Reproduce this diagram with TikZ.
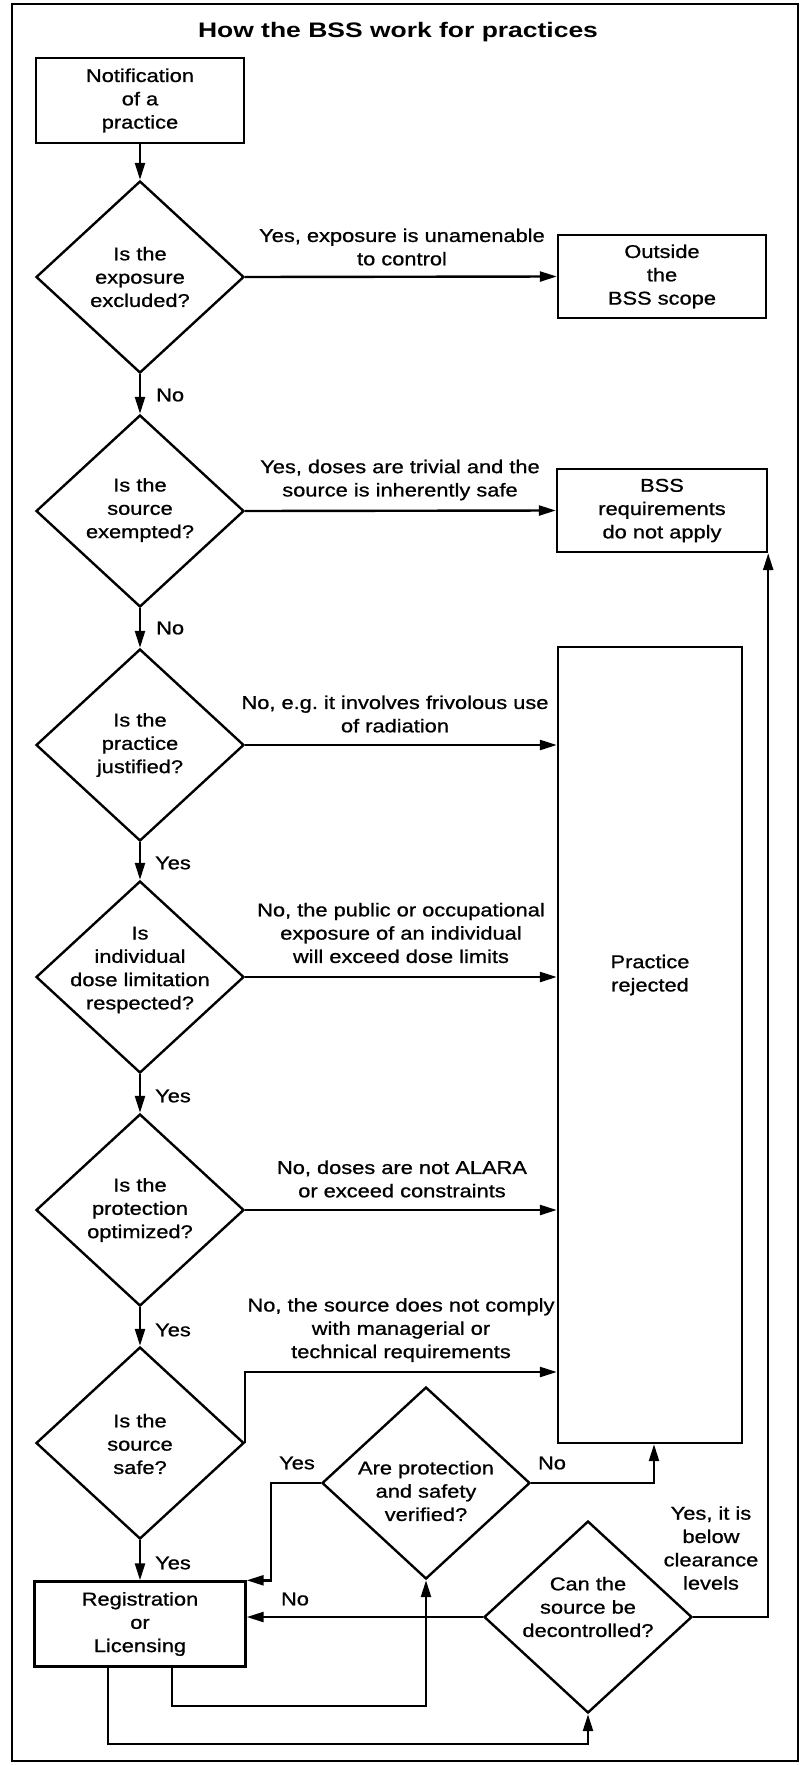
\documentclass[tikz,border=0pt]{standalone}
\usepackage{fontspec}
\setmainfont{Liberation Sans}[FakeStretch=1.18,FakeBold=0.9]
\newfontfamily\titlefont{Liberation Sans}[FakeStretch=1.26]
\usetikzlibrary{shapes.geometric,arrows.meta,calc}
\newcommand\lblfont{\fontsize{18.5}{23.3}\selectfont}
\begin{document}
\begin{tikzpicture}[x=1pt,y=-1pt,
  box/.style={draw, line width=2.4pt, rectangle, inner sep=0pt, align=center, font=\lblfont},
  dia/.style={draw, line width=2.4pt, diamond, minimum width=208pt, minimum height=192pt, inner sep=0pt},
  txt/.style={align=center, font=\lblfont, inner sep=0pt},
  arr/.style={line width=2.4pt, -{Triangle[length=17pt,width=10pt]}},
  ]
\useasboundingbox (0,0) rectangle (806,1765);
\draw[line width=1.6pt] (12,4) rectangle (798,1761);

\node[txt, font=\titlefont\bfseries\fontsize{21}{25}\selectfont] (title) at (398,32) {How the BSS work for practices};

% main nodes
\node[box, minimum width=208pt, minimum height=85pt] (n0) at (140,100.5) {Notification\\of a\\practice};
\node[dia] (d1) at (140,277) {};
\node[txt] (t1) at (140,277) {Is the\\exposure\\excluded?};
\node[box, minimum width=208pt, minimum height=83pt] (out) at (662,276.5) {Outside\\the\\BSS scope};
\node[dia] (d2) at (140,511) {};
\node[txt] (t2) at (140,510) {Is the\\source\\exempted?};
\node[box, minimum width=210pt, minimum height=83pt] (bss) at (662,510.5) {BSS\\requirements\\do not apply};
\node[dia] (d3) at (140,745) {};
\node[txt] (t3) at (140,745) {Is the\\practice\\justified?};
\node[box, minimum width=184pt, minimum height=796pt] (pr) at (650,1045) {};
\node[txt] (prt) at (650,975) {Practice\\rejected};
\node[dia] (d4) at (140,977) {};
\node[txt] (t4) at (140,970) {Is\\individual\\dose limitation\\respected?};
\node[dia] (d5) at (140,1210) {};
\node[txt] (t5) at (140,1210) {Is the\\protection\\optimized?};
\node[dia] (d6) at (140,1443) {};
\node[txt] (t6) at (140,1444) {Is the\\source\\safe?};
\node[dia] (d7) at (426,1483) {};
\node[txt] (t7) at (426,1491) {Are protection\\and safety\\verified?};
\node[box, minimum width=211pt, minimum height=85pt] (reg) at (140,1624) {Registration\\or\\Licensing};
\node[dia] (d8) at (588,1617) {};
\node[txt] (t8) at (588,1607) {Can the\\source be\\decontrolled?};

% connectors
\draw[arr] (n0.south) -- (d1.north);
\draw[arr] (d1.east) -- (out.west);
\draw[arr] (d1.south) -- (d2.north);
\draw[arr] (d2.east) -- (bss.west);
\draw[arr] (d2.south) -- (d3.north);
\draw[arr] (d3.east) -- (d3.east -| pr.west);
\draw[arr] (d3.south) -- (d4.north);
\draw[arr] (d4.east) -- (d4.east -| pr.west);
\draw[arr] (d4.south) -- (d5.north);
\draw[arr] (d5.east) -- (d5.east -| pr.west);
\draw[arr] (d5.south) -- (d6.north);
\draw[arr] (d6.east) -- ++(0,-71) coordinate (c6) -- (c6 -| pr.west);
\draw[arr] (d6.south) -- (reg.north);
\draw[arr] (d7.west) -| ($(reg.north east)+(24,0)$) -- (reg.north east);
\draw[arr] (d7.east) -| ($(pr.south)+(4,0)$);
\draw[arr] (d8.west) -- (d8.west -| reg.east);
\draw[arr] (d8.east) -| (bss.south east);
\draw[arr] ($(reg.south)+(32,0)$) -- ++(0,38) -| (d7.south);
\draw[arr] ($(reg.south)+(-32,0)$) -- ++(0,76) -| (d8.south);

% labels
\node[txt] (l1) at (402,247) {Yes, exposure is unamenable\\to control};
\node[txt] (l2) at (400,480) {Yes, doses are trivial and the\\source is inherently safe};
\node[txt] (l3) at (395,714) {No, e.g.\ it involves frivolous use\\of radiation};
\node[txt] (l4) at (401,933) {No, the public or occupational\\exposure of an individual\\will exceed dose limits};
\node[txt] (l5) at (402,1179) {No, doses are not ALARA\\or exceed constraints};
\node[txt] (l6) at (401,1330) {No, the source does not comply\\with managerial or\\technical requirements};
\node[txt] (l8) at (711,1548) {Yes, it is\\below\\clearance\\levels};
\node[txt, anchor=west] (a1) at (156,395) {No};
\node[txt, anchor=west] (a2) at (156,628) {No};
\node[txt, anchor=west] (a3) at (155,863) {Yes};
\node[txt, anchor=west] (a4) at (155,1096) {Yes};
\node[txt, anchor=west] (a5) at (155,1330) {Yes};
\node[txt, anchor=west] (a6) at (155,1563) {Yes};
\node[txt] (y7) at (297,1463) {Yes};
\node[txt] (n7) at (552,1463) {No};
\node[txt] (n8) at (295,1599) {No};
\end{tikzpicture}
\end{document}
